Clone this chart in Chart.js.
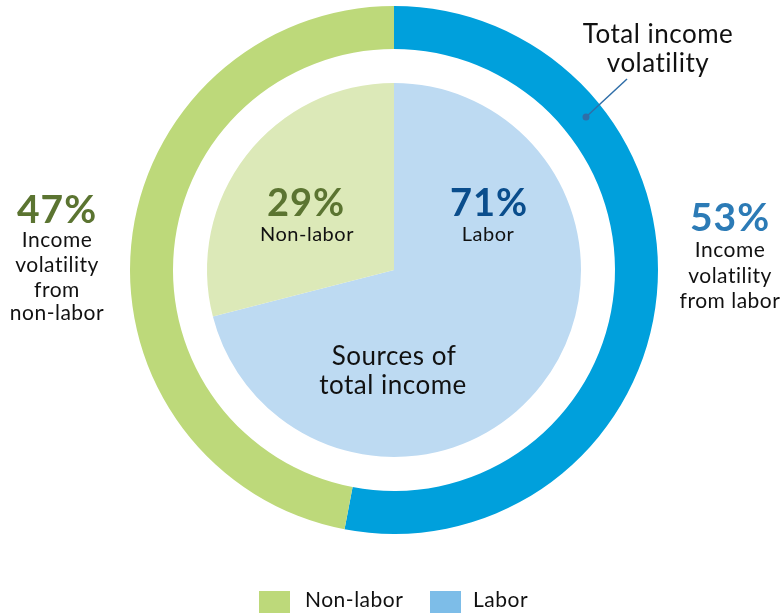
<!DOCTYPE html>
<html>
<head>
<meta charset="utf-8">
<script src="https://cdn.jsdelivr.net/npm/chart.js@4"></script>
<style>
   html, body { margin: 0; padding: 0; background: #fff; }
   #wrap { width: 783px; height: 614px; }
</style>
</head>
<body>
<div id="wrap"><canvas id="incomeChart" width="783" height="614"></canvas></div>
<script>
// Data
const categories = ["Labor", "Non-labor"];
const volatilityShare = [53, 47];   // outer ring: total income volatility
const incomeShare = [71, 29];       // inner pie: sources of total income
const legendLabels = ["Non-labor", "Labor"];

const FONT = "Lato, 'Noto Sans', sans-serif";

// Text labels drawn on top of the chart
const textPlugin = {
   id: "textPlugin",
   afterDraw(chart) {
      const ctx = chart.ctx;
      ctx.save();
      ctx.textAlign = "center";
      ctx.textBaseline = "alphabetic";

      function put(text, x, y, size, color, bold) {
         ctx.font = `${bold ? "bold " : ""}${size}px ${FONT}`;
         ctx.letterSpacing = bold ? "1px" : "0.5px";   // also stops the "ti" ligature
         ctx.fillStyle = color;
         ctx.fillText(text, x, y);
      }

      // annotation for outer ring
      put("Total income", 658, 43, 26, "#111");
      put("volatility", 658, 72, 26, "#111");
      ctx.strokeStyle = "#2f6ea8";
      ctx.lineWidth = 1.5;
      ctx.beginPath();
      ctx.moveTo(586, 117);
      ctx.lineTo(627, 79);
      ctx.stroke();
      ctx.fillStyle = "#2f6ea8";
      ctx.beginPath();
      ctx.arc(586, 117, 3.5, 0, Math.PI * 2);
      ctx.fill();

      // left side: non-labor volatility
      put(volatilityShare[1] + "%", 57, 223, 39, "#5b7431", true);
      put("Income", 57, 247, 21, "#111");
      put("volatility", 57, 272, 21, "#111");
      put("from", 57, 297, 21, "#111");
      put("non-labor", 57, 320, 21, "#111");

      // right side: labor volatility
      put(volatilityShare[0] + "%", 730, 231, 39, "#2c7bb6", true);
      put("Income", 730, 257, 21, "#111");
      put("volatility", 730, 283, 21, "#111");
      put("from labor", 730, 308, 21, "#111");

      // inner pie labels
      put(incomeShare[1] + "%", 306, 216, 38, "#5b7431", true);
      put("Non-labor", 307, 241, 20, "#111");
      put(incomeShare[0] + "%", 489, 216, 38, "#0a4d8c", true);
      put("Labor", 488, 241, 20, "#111");
      put("Sources of", 394, 365, 26, "#111");
      put("total income", 393, 394, 26, "#111");

      // legend
      ctx.textAlign = "left";
      ctx.fillStyle = "#bdd97a";
      ctx.fillRect(259, 591, 31, 22);
      put(legendLabels[0], 305, 607, 21, "#111");
      ctx.fillStyle = "#7dbde8";
      ctx.fillRect(430, 591, 31, 22);
      put(legendLabels[1], 473, 607, 21, "#111");

      ctx.restore();
   }
};

const ctx = document.getElementById("incomeChart").getContext("2d");
new Chart(ctx, {
   type: "pie",
   data: {
      labels: categories,
      datasets: [
         {
            label: "Total income volatility",
            data: volatilityShare,
            backgroundColor: ["#00a0dc", "#bdd97a"],
            borderWidth: 0,
            weight: 43
         },
         {
            label: "gap",
            data: [1],
            backgroundColor: ["rgba(0,0,0,0)"],
            borderWidth: 0,
            weight: 34
         },
         {
            label: "Sources of total income",
            data: incomeShare,
            backgroundColor: ["#bddaf2", "#dce9b8"],
            borderWidth: 0,
            weight: 187
         }
      ]
   },
   options: {
      responsive: false,
      animation: false,
      cutout: 0,
      layout: { padding: { left: 130, right: 125, top: 6, bottom: 80 } },
      plugins: {
         legend: { display: false },
         tooltip: { enabled: false }
      }
   },
   plugins: [textPlugin]
});
</script>
</body>
</html>
